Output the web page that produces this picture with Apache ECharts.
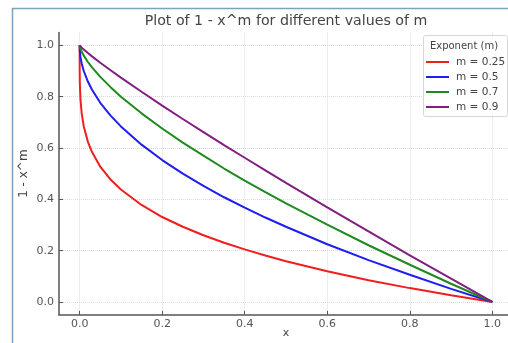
<!DOCTYPE html>
<html><head><meta charset="utf-8">
<script src="https://cdn.jsdelivr.net/npm/echarts@6/dist/echarts.min.js"></script>
<style>html,body{margin:0;padding:0;background:#fff}#c{width:508px;height:343px}</style>
</head><body><div id="c"></div>
<script>
const xs = [0, 0.00001, 0.0001, 0.0005, 0.002, 0.005, 0.01, 0.02, 0.03, 0.05, 0.075, 0.1, 0.15, 0.2, 0.25, 0.3, 0.35, 0.4, 0.45, 0.5, 0.6, 0.7, 0.8, 0.9, 1.0];
const m025 = [1.0, 0.944, 0.90, 0.85, 0.79, 0.734, 0.684, 0.624, 0.584, 0.527, 0.477, 0.438, 0.378, 0.331, 0.293, 0.260, 0.231, 0.205, 0.181, 0.159, 0.120, 0.085, 0.054, 0.026, 0.0];
const m05  = [1.0, 0.997, 0.99, 0.978, 0.955, 0.929, 0.90, 0.859, 0.827, 0.776, 0.726, 0.684, 0.613, 0.553, 0.50, 0.452, 0.408, 0.368, 0.329, 0.293, 0.225, 0.163, 0.106, 0.051, 0.0];
const m07  = [1.0, 1.0, 0.998, 0.995, 0.987, 0.975, 0.960, 0.935, 0.914, 0.877, 0.837, 0.800, 0.735, 0.676, 0.621, 0.570, 0.520, 0.473, 0.428, 0.384, 0.301, 0.221, 0.145, 0.071, 0.0];
const m09  = [1.0, 1.0, 1.0, 0.999, 0.996, 0.991, 0.984, 0.970, 0.957, 0.932, 0.903, 0.874, 0.819, 0.765, 0.713, 0.662, 0.611, 0.562, 0.513, 0.464, 0.369, 0.275, 0.182, 0.091, 0.0];
const seriesNames = ['m = 0.25', 'm = 0.5', 'm = 0.7', 'm = 0.9'];
const seriesColors = ['#f01e1e', '#1e1ef0', '#1e8a1e', '#801f80'];
const tickVals = [0, 0.2, 0.4, 0.6, 0.8, 1.0];

const chart = echarts.init(document.getElementById('c'), null, {renderer: 'canvas'});
const font = 'DejaVu Sans';
const allData = [m025, m05, m07, m09];
const axisCommon = {
  axisLine: {onZero: false, lineStyle: {color: '#555', width: 1.5}},
  axisTick: {inside: true, length: 4, customValues: tickVals, lineStyle: {color: '#555', width: 1}},
  axisLabel: {customValues: tickVals, color: '#555', fontSize: 11, fontFamily: font, formatter: v => v.toFixed(1)},
  splitLine: {show: true, lineStyle: {color: '#dcdcdc', type: 'dotted', width: 1}}
};
chart.setOption({
  animation: false,
  grid: {left: 59, right: -5, top: 32.5, bottom: 28.2, containLabel: false, outerBoundsMode: 'none'},
  xAxis: Object.assign({type: 'value', min: -0.05, max: 1.05, name: 'x', nameLocation: 'middle', nameGap: 13, nameMoveOverlap: false,
    nameTextStyle: {color: '#444', fontSize: 11, fontFamily: font}}, axisCommon,
    {axisLabel: Object.assign({}, axisCommon.axisLabel, {margin: 4})}),
  yAxis: Object.assign({type: 'value', min: -0.05, max: 1.05, name: '1 - x^m', nameLocation: 'middle', nameGap: 29, nameMoveOverlap: false,
    nameTextStyle: {color: '#444', fontSize: 12, fontFamily: font}}, axisCommon,
    {axisLabel: Object.assign({}, axisCommon.axisLabel, {margin: 5})}),
  legend: {orient: 'vertical', left: 426, top: 56, padding: 0, itemWidth: 23, itemHeight: 2, itemGap: 3, icon: 'rect', z: 60,
    textStyle: {color: '#444', fontSize: 10.5, fontFamily: font, lineHeight: 12, padding: [0, 0, 0, 2]},
    data: seriesNames},
  series: seriesNames.map((n, i) => ({
    name: n, type: 'line', showSymbol: false, smooth: false,
    color: seriesColors[i], lineStyle: {width: 2, color: seriesColors[i]},
    data: xs.map((x, j) => [x, allData[i][j]])
  })),
  graphic: [
    {type: 'rect', shape: {x: 12.5, y: 8.5, width: 520, height: 360}, style: {fill: 'none', stroke: '#7aa3c0', lineWidth: 1.5}, z: 100},
    {type: 'text', x: 286, y: 21, style: {text: 'Plot of 1 - x^m for different values of m', fontSize: 14.2, fontFamily: font, fill: '#444', align: 'center', verticalAlign: 'middle'}},
    {type: 'rect', shape: {x: 423.5, y: 35.5, width: 84, height: 81, r: 2}, style: {fill: 'rgba(255,255,255,0.85)', stroke: '#d6d6d6', lineWidth: 1}, z: 1},
    {type: 'text', x: 464, y: 46, style: {text: 'Exponent (m)', fontSize: 10, fontFamily: font, fill: '#444', align: 'center', verticalAlign: 'middle'}, z: 51}
  ]
});
</script></body></html>
